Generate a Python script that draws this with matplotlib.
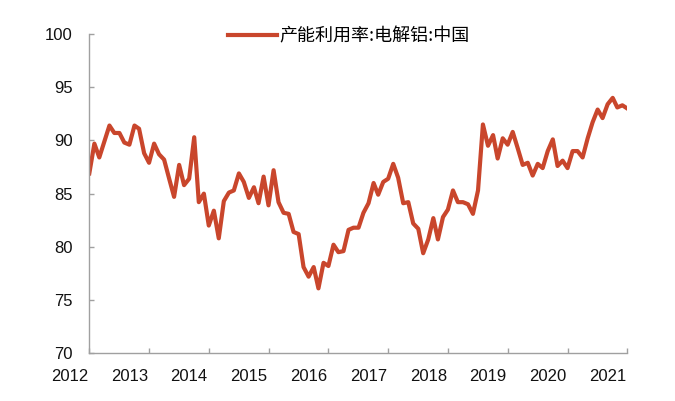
import numpy as np
import pandas as pd
import matplotlib
matplotlib.use('Agg')
import matplotlib.pyplot as plt
import matplotlib.dates as mdates

plt.rcParams['font.family'] = ['Liberation Sans', 'Noto Sans CJK SC', 'DejaVu Sans']

# monthly capacity utilisation, electrolytic aluminium, China (%)
start_month = '2012-05'
utilization = [
    86.9, 89.7, 88.4, 89.9, 91.4, 90.7, 90.7, 89.8, 89.6, 91.4, 91.1, 88.8,
    87.9, 89.7, 88.7, 88.2, 86.4, 84.7, 87.7, 85.8, 86.4, 90.3, 84.2, 85.0,
    82.0, 83.4, 80.8, 84.3, 85.1, 85.3, 86.9, 86.1, 84.6, 85.6, 84.1, 86.6,
    83.9, 87.2, 84.2, 83.2, 83.1, 81.4, 81.2, 78.1, 77.2, 78.1, 76.1, 78.5,
    78.2, 80.2, 79.5, 79.6, 81.6, 81.8, 81.8, 83.2, 84.1, 86.0, 84.9, 86.1,
    86.4, 87.8, 86.5, 84.1, 84.2, 82.2, 81.7, 79.4, 80.7, 82.7, 80.7, 82.8,
    83.5, 85.3, 84.2, 84.2, 84.0, 83.1, 85.3, 91.5, 89.5, 90.5, 88.3, 90.2,
    89.6, 90.8, 89.3, 87.7, 87.9, 86.7, 87.8, 87.4, 89.0, 90.1, 87.6, 88.1,
    87.4, 89.0, 89.0, 88.4, 90.2, 91.7, 92.9, 92.1, 93.4, 94.0, 93.1, 93.3,
    93.0,
]
years = list(range(2012, 2022))
yticks = [70, 75, 80, 85, 90, 95, 100]
series_name = '产能利用率:电解铝:中国'

dates = pd.date_range(start_month, periods=len(utilization), freq='MS')

fig = plt.figure(figsize=(6.75, 4.01), dpi=100)
ax = fig.add_axes([0.1323, 0.1190, 0.7970, 0.7962])

ax.plot(dates, utilization, color='#C9462C', lw=3.0, solid_joinstyle='round',
        label=series_name)

ax.set_ylim(70, 100)
ax.set_yticks(yticks)
ax.set_xlim(dates[0], dates[-1])

# ticks at year boundaries of the data window, labels at January
tick_dates = pd.date_range(start_month, periods=10, freq='12MS')
ax.set_xticks(mdates.date2num(tick_dates))
ax.set_xticklabels([])
for y in years:
    ax.annotate(str(y), xy=(mdates.date2num(pd.Timestamp(f'{y}-01-01')), 0),
                xycoords=('data', 'axes fraction'), xytext=(0, -11.5),
                textcoords='offset points', ha='center', va='top',
                fontsize=12, color='#111111', annotation_clip=False)

for side in ['top', 'right']:
    ax.spines[side].set_visible(False)
for side in ['left', 'bottom']:
    ax.spines[side].set_color('#A0A0A0')
    ax.spines[side].set_linewidth(1.0)

ax.tick_params(axis='both', direction='in', length=3.5, width=1.0,
               color='#A0A0A0', labelsize=12, labelcolor='#111111')
ax.tick_params(axis='y', pad=12)

leg = ax.legend(loc='center', bbox_to_anchor=(0.482, 0.993), frameon=False,
                handlelength=2.7, handletextpad=0.15,
                prop={'family': ['Noto Sans CJK SC', 'DejaVu Sans'], 'size': 13})

fig.savefig('out.png', dpi=100)
